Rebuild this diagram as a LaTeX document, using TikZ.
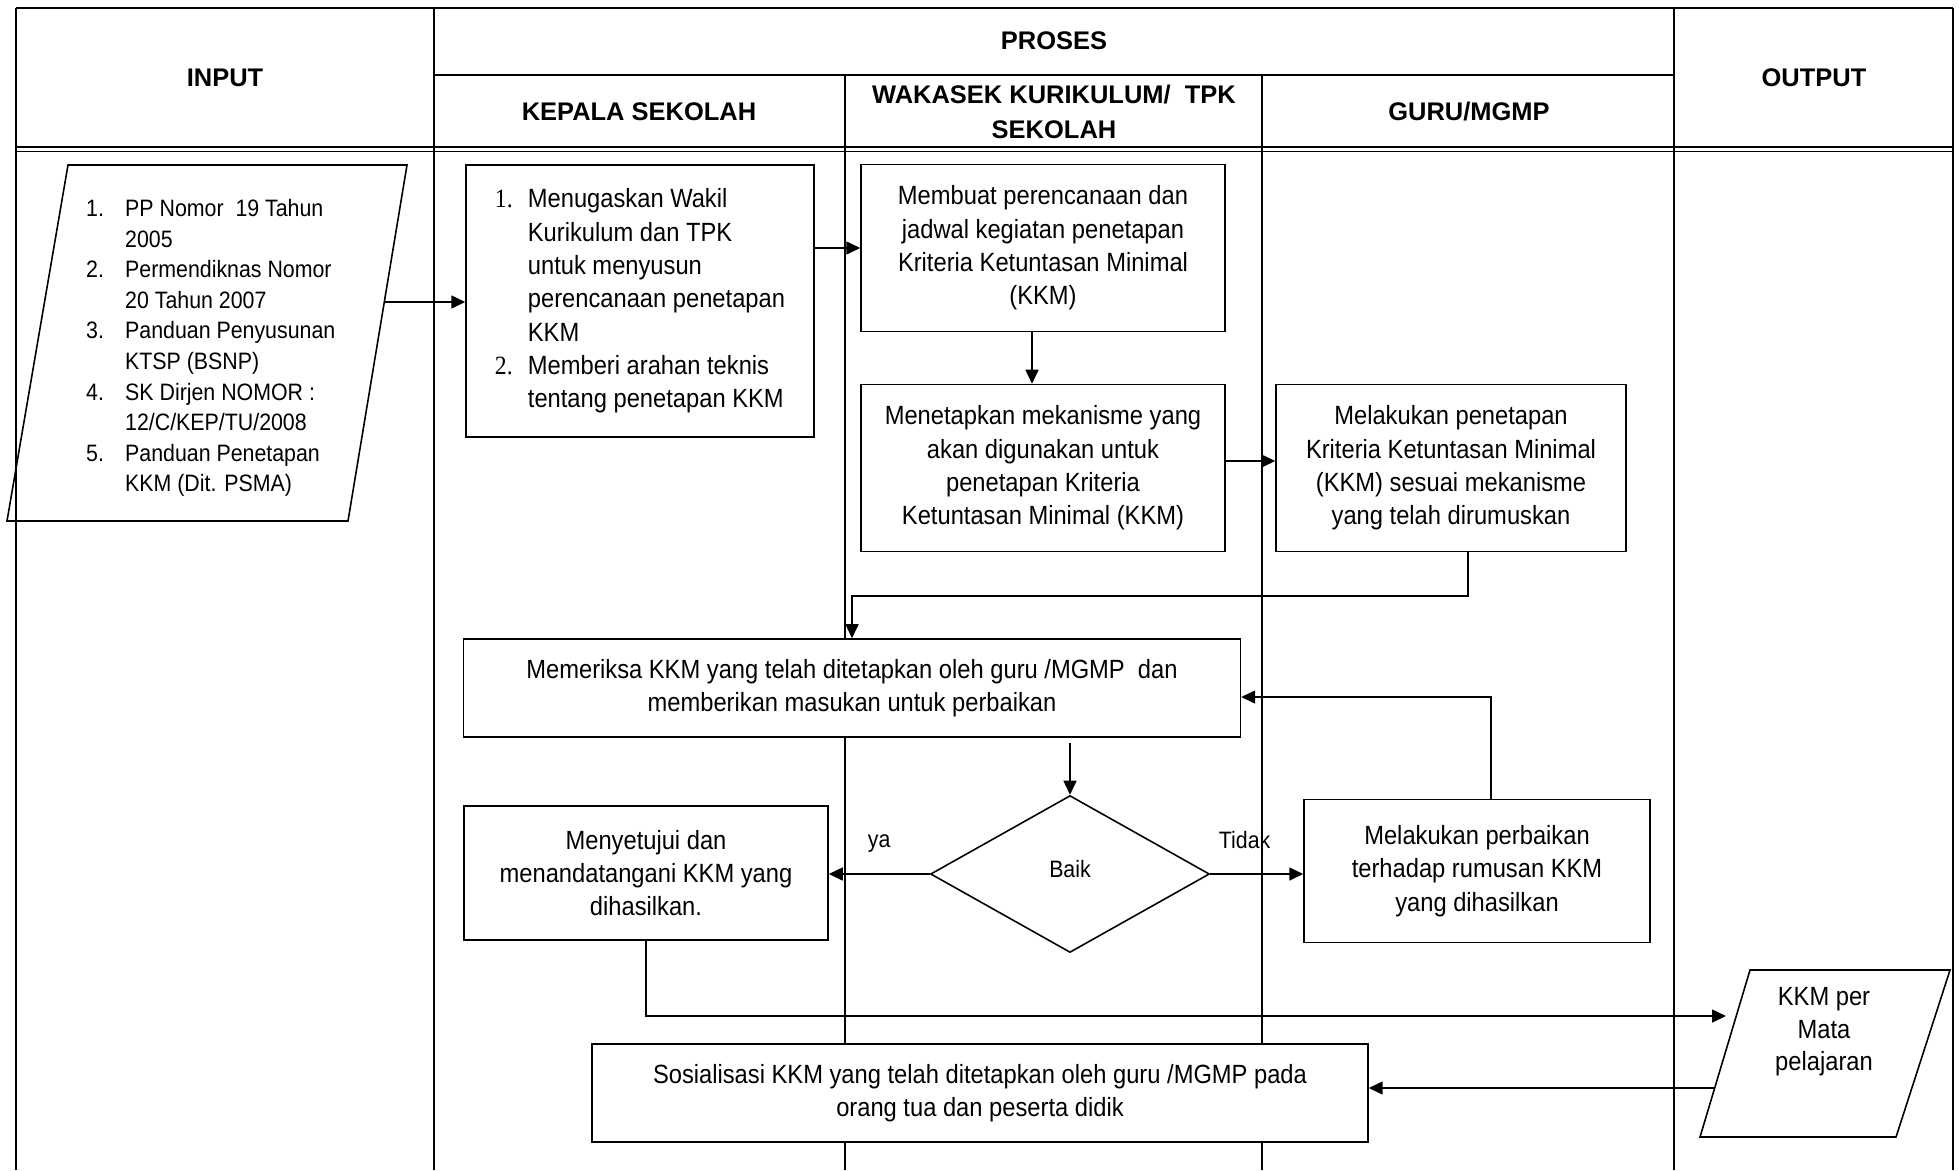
\documentclass[tikz,border=0pt]{standalone}
\usepackage{fontspec}
\setmainfont{Liberation Sans}[FakeStretch=0.9]
\newfontfamily\hdfont{Liberation Sans}
\newfontfamily\numfont{Liberation Serif}[FakeStretch=0.9]
\usetikzlibrary{arrows.meta,shapes.geometric}
\newcommand\lnum[2][.78cm]{\makebox[#1][l]{#2}}
\newcommand\lind[1][.78cm]{\hspace*{#1}}

\begin{document}
\begin{tikzpicture}[x=0.02cm, y=-0.02cm,
    frame/.style={line width=1.1pt},
    head/.style={font=\hdfont\bfseries\fontsize{14.5pt}{20pt}\selectfont, align=center},
    box/.style={draw, fill=white, line width=0.9pt, align=center, inner sep=2pt,
                font=\fontsize{15pt}{19pt}\selectfont},
    flow/.style={line width=0.9pt, -{Triangle[length=0.28cm, width=0.26cm]}},
    lbl/.style={font=\fontsize{13.5pt}{16pt}\selectfont}]
    \useasboundingbox (0,0) rectangle (1959,1170);

    \draw[frame] (16,8) -- (1953,8);
    \draw[frame] (16,8) -- (16,1170);
    \draw[frame] (1953,8) -- (1953,1170);
    \draw[frame] (434,8) -- (434,1170);
    \draw[frame] (1674,8) -- (1674,1170);
    \draw[frame] (434,75) -- (1674,75);
    \draw[frame] (845,75) -- (845,1170);
    \draw[frame] (1262,75) -- (1262,1170);
    \draw[line width=1.3pt] (16,147) -- (1953,147);
    \draw[line width=0.6pt] (16,151.5) -- (1953,151.5);

    \node[head] (hin) at (225,78) {INPUT};
    \node[head] (hpro) at (1054,41) {PROSES};
    \node[head] (hks) at (639,112) {KEPALA SEKOLAH};
    \node[head] (hwk) at (1054,112) {WAKASEK KURIKULUM/\ \ TPK\\SEKOLAH};
    \node[head] (hgm) at (1469,112) {GURU/MGMP};
    \node[head] (hout) at (1814,78) {OUTPUT};

    \draw[line width=0.9pt] (68,165) -- (407,165) -- (348,521) -- (7,521) -- cycle;
    \coordinate (inR) at (384,302);
    \node[anchor=west, align=left, font=\fontsize{13.5pt}{17.4pt}\selectfont] (intext) at (80,348)
        {\lnum{1.}PP Nomor\ \ 19 Tahun\\ \lind 2005\\
         \lnum{2.}Permendiknas Nomor\\ \lind 20 Tahun 2007\\
         \lnum{3.}Panduan Penyusunan\\ \lind KTSP (BSNP)\\
         \lnum{4.}SK Dirjen NOMOR :\\ \lind 12/C/KEP/TU/2008\\
         \lnum{5.}Panduan Penetapan\\ \lind KKM (Dit. PSMA)};

    \draw[line width=0.9pt] (1750,970) -- (1950,970) -- (1896,1137) -- (1700,1137) -- cycle;
    \coordinate (outL) at (1726,1016);
    \coordinate (outB) at (1715,1088);
    \node[align=center, font=\fontsize{15pt}{18.5pt}\selectfont] (outtext) at (1824,1032)
        {KKM per\\Mata\\pelajaran};

    \node[box, align=left, minimum width=6.96cm, minimum height=5.44cm] (b1) at (640,301)
        {\lnum[.66cm]{\numfont 1.}Menugaskan Wakil\\ \lind[.66cm]Kurikulum dan TPK\\
         \lind[.66cm]untuk menyusun\\ \lind[.66cm]perencanaan penetapan\\ \lind[.66cm]KKM\\
         \lnum[.66cm]{\numfont 2.}Memberi arahan teknis\\ \lind[.66cm]tentang penetapan KKM};
    \node[box, minimum width=7.28cm, minimum height=3.34cm] (b2) at (1043,248)
        {Membuat perencanaan dan\\jadwal kegiatan penetapan\\Kriteria Ketuntasan Minimal\\(KKM)};
    \node[box, minimum width=7.28cm, minimum height=3.34cm] (b3) at (1043,468)
        {Menetapkan mekanisme yang\\akan digunakan untuk\\penetapan Kriteria\\Ketuntasan Minimal (KKM)};
    \node[box, minimum width=7cm, minimum height=3.34cm] (b4) at (1451,468)
        {Melakukan penetapan\\Kriteria Ketuntasan Minimal\\(KKM) sesuai mekanisme\\yang telah dirumuskan};
    \node[box, minimum width=15.54cm, minimum height=1.96cm] (b5) at (852,688)
        {Memeriksa KKM yang telah ditetapkan oleh guru /MGMP\ \ dan\\memberikan masukan untuk perbaikan};
    \node[box, diamond, minimum width=5.58cm, minimum height=3.14cm, inner sep=0pt,
          font=\fontsize{13.5pt}{16pt}\selectfont] (d) at (1070,874) {\raisebox{.2cm}{Baik}};
    \node[box, minimum width=7.28cm, minimum height=2.68cm] (b6) at (646,873)
        {Menyetujui dan\\menandatangani KKM yang\\dihasilkan.};
    \node[box, minimum width=6.92cm, minimum height=2.86cm] (b7) at (1477,871)
        {Melakukan perbaikan\\terhadap rumusan KKM\\yang dihasilkan};
    \node[box, minimum width=15.52cm, minimum height=1.96cm] (b8) at (980,1093)
        {Sosialisasi KKM yang telah ditetapkan oleh guru /MGMP pada\\orang tua dan peserta didik};

    \draw[flow] (inR) -- (inR -| b1.west);
    \draw[flow] (b1.east |- b2.west) -- (b2.west);
    \draw[flow] ([xshift=-.22cm]b2.south) -- ([xshift=-.22cm]b3.north);
    \draw[flow] ([yshift=.14cm]b3.east) -- ([yshift=.14cm]b3.east -| b4.west);
    \draw[flow] ([xshift=.34cm]b4.south) -- ++(0,44) -| (b5.north);
    \draw[flow] ([yshift=-.1cm]b5.south -| d.north) -- (d.north);
    \draw[flow] (d.west) -- (d.west -| b6.east) node[midway, yshift=.6cm, lbl] {ya};
    \draw[flow] (d.east) -- (d.east -| b7.west) node[pos=.37, yshift=.68cm, lbl] {Tidak};
    \draw[flow] ([xshift=.28cm]b7.north) |- ([yshift=-.18cm]b5.east);
    \draw[flow] (b6.south) |- (outL);
    \draw[flow] (outB) -- (outB -| b8.east);
\end{tikzpicture}
\end{document}
